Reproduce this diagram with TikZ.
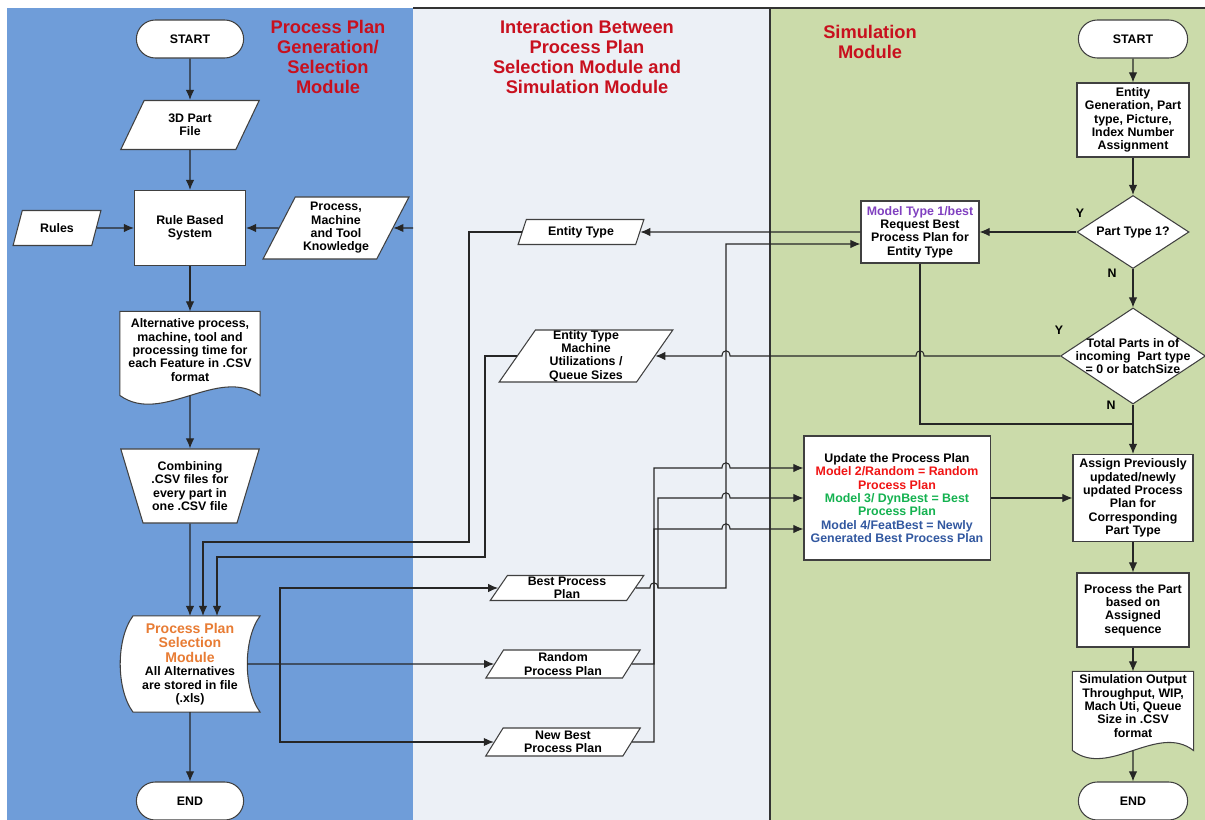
\documentclass[tikz,border=0pt]{standalone}
\usepackage{fontspec}
\setmainfont{Liberation Sans}
\usetikzlibrary{shapes.geometric,shapes.misc,arrows.meta,calc,backgrounds}
\definecolor{laneblue}{RGB}{111,157,217}
\definecolor{lanegrey}{RGB}{236,240,246}
\definecolor{lanegreen}{RGB}{203,219,170}
\definecolor{titlered}{RGB}{200,16,30}
\definecolor{ppsmorange}{RGB}{232,124,52}
\definecolor{modelred}{RGB}{240,20,20}
\definecolor{modelgreen}{RGB}{20,178,80}
\definecolor{modelblue}{RGB}{50,88,160}
\definecolor{modelpurple}{RGB}{128,64,192}
\newcommand*{\HopRight}[2]{% #1 = x of crossing, #2 = y of line
-- (#1-4,#2) .. controls (#1-4,#2-7) and (#1+4,#2-7) .. (#1+4,#2)}
\newcommand*{\HopLeft}[2]{%
-- (#1+4,#2) .. controls (#1+4,#2-7) and (#1-4,#2-7) .. (#1-4,#2)}
\newcommand*{\OrangeLine}[1]{\textcolor{ppsmorange}{\fontsize{10}{11.3}\selectfont #1}}

\begin{document}
\begin{tikzpicture}[x=0.025cm,y=-0.025cm,
    every node/.style={font=\bfseries\fontsize{8.8}{9.5}\selectfont},
    base/.style={draw=black!75, fill=white, line width=0.75pt, align=center, inner sep=1pt},
    term/.style={base, rounded rectangle, minimum width=2.75cm, minimum height=0.95cm},
    proc/.style={base, rectangle},
    iobox/.style={base, trapezium, trapezium left angle=62, trapezium right angle=118,
        trapezium stretches=true, inner ysep=0pt},
    decide/.style={base, diamond, aspect=1.5, inner sep=0pt},
    flow/.style={draw=black!85, line width=0.75pt, -{Latex[length=2.5mm,width=2.1mm]}},
    wire/.style={draw=black!85, line width=0.75pt},
    lanetitle/.style={text=titlered, align=center, font=\bfseries\fontsize{13}{14.2}\selectfont},
    yn/.style={inner sep=0pt}]

\useasboundingbox (0,0) rectangle (1205,820);

% swim lanes
\begin{scope}[on background layer]
\fill[laneblue] (7,8) rectangle (413,820);
\fill[lanegrey] (413,8) rectangle (770,820);
\fill[lanegreen] (770,8) rectangle (1205,820);
\draw[black!80, line width=0.8pt] (413,8) -- (1205,8);
\draw[black!80, line width=0.8pt] (770,8) -- (770,820);
\end{scope}

\node[lanetitle] (title1) at (328,57) {Process Plan\\Generation/\\Selection\\Module};
\node[lanetitle] (title2) at (587,57) {Interaction Between\\Process Plan\\Selection Module and\\Simulation Module};
\node[lanetitle] (title3) at (870,42) {Simulation\\Module};

% process plan generation / selection
\node[term] (st1) at (190,39) {START};
\node[iobox, minimum width=3.475cm, minimum height=1.225cm] (part3d) at (190,125) {3D Part\\File};
\node[proc, minimum width=2.775cm, minimum height=1.875cm] (rbs) at (190,228) {Rule Based\\System};
\node[iobox, minimum width=2.2cm, minimum height=0.875cm] (rules) at (57,228) {Rules};
\node[iobox, minimum width=3.65cm, minimum height=1.55cm] (ptk) at (336,228) {Process,\\Machine\\and Tool\\Knowledge};
\coordinate (ptk-in) at (413,228);
\node[proc, draw=none, fill=none, minimum width=3.475cm, minimum height=1.9cm] (alt) at (190,350)
    {Alternative process,\\machine, tool and\\processing time for\\each Feature in .CSV\\format};
\node[base, trapezium, trapezium left angle=110, trapezium right angle=110, trapezium stretches=true,
    minimum width=3.475cm, minimum height=1.85cm] (comb) at (190,486) {Combining\\.CSV files for\\every part in\\one .CSV file};
\node[proc, draw=none, fill=none, minimum width=3.475cm, minimum height=2.375cm] (ppsm) at (190,664)
    {\OrangeLine{Process Plan}\\[1pt]\OrangeLine{Selection}\\[1pt]\OrangeLine{Module}\\All Alternatives\\are stored in file\\(.xls)};
\node[term] (end1) at (190,801) {END};

% interaction
\node[iobox, trapezium left angle=66, trapezium right angle=114, minimum width=3.15cm, minimum height=0.625cm] (et) at (581,232) {Entity Type};
\node[iobox, minimum width=4.35cm, minimum height=1.3cm] (etm) at (586,356) {Entity Type\\Machine\\Utilizations /\\Queue Sizes};
\node[iobox, minimum width=3.85cm, minimum height=0.625cm] (bpp) at (567,588) {Best Process\\Plan};
\node[iobox, minimum width=3.875cm, minimum height=0.7cm] (rpp) at (563,664) {Random\\Process Plan};
\node[iobox, minimum width=3.875cm, minimum height=0.7cm] (nbpp) at (563,742) {New Best\\Process Plan};

% simulation
\node[term, minimum width=2.8cm] (st2) at (1133,39) {START};
\node[proc, minimum width=2.8cm, minimum height=1.85cm] (egen) at (1133,120)
    {Entity\\Generation, Part\\type, Picture,\\Index Number\\Assignment};
\node[decide, minimum width=2.8cm, minimum height=1.825cm] (pt1) at (1133,232) {Part Type 1?};
\node[proc, minimum width=2.95cm, minimum height=1.55cm] (rbest) at (920,232)
    {\textcolor{modelpurple}{Model Type 1/best}\\Request Best\\Process Plan for\\Entity Type};
\node[decide, minimum width=3.625cm, minimum height=2.4cm,
    label={[align=center]center:Total Parts in of\\incoming~~Part type\\= 0 or batchSize}] (tp) at (1133,356) {};
\node[proc, minimum width=4.65cm, minimum height=3.1cm] (upd) at (897,498)
    {Update the Process Plan\\
     \textcolor{modelred}{Model 2/Random = Random}\\
     \textcolor{modelred}{Process Plan}\\
     \textcolor{modelgreen}{Model 3/ DynBest = Best}\\
     \textcolor{modelgreen}{Process Plan}\\
     \textcolor{modelblue}{Model 4/FeatBest = Newly}\\
     \textcolor{modelblue}{Generated Best Process Plan}};
\node[proc, minimum width=3cm, minimum height=2.175cm] (asg) at (1133,498)
    {Assign Previously\\updated/newly\\updated Process\\Plan for\\Corresponding\\Part Type};
\node[proc, minimum width=2.8cm, minimum height=1.85cm] (prc) at (1133,610)
    {Process the Part\\based on\\Assigned\\sequence};
\node[proc, draw=none, fill=none, minimum width=3cm, minimum height=1.7cm] (sout) at (1133,706)
    {Simulation Output\\Throughput, WIP,\\Mach Uti, Queue\\Size in .CSV\\format};
\node[term, minimum width=2.8cm] (end2) at (1133,801) {END};

\node[yn] (y1) at (1080,213) {Y};
\node[yn] (n1) at (1112,273) {N};
\node[yn] (y2) at (1059,330) {Y};
\node[yn] (n2) at (1111,405) {N};

% document and stored data outlines
\begin{scope}[on background layer]
\draw[base] (alt.north west) -- (alt.north east) -- ($(alt.south east)+(0,7)$)
    .. controls ($(alt.south east)+(-42,-23)$) and ($(alt.south west)+(42,37)$) .. ($(alt.south west)+(0,7)$) -- cycle;
\draw[base] (sout.north west) -- (sout.north east) -- ($(sout.south east)+(0,10)$)
    .. controls ($(sout.south east)+(-36,-18)$) and ($(sout.south west)+(36,38)$) .. ($(sout.south west)+(0,10)$) -- cycle;
\draw[base] ($(ppsm.north west)+(13,0)$) -- (ppsm.north east)
    .. controls ($(ppsm.north east)+(-17,23)$) and ($(ppsm.south east)+(-17,-23)$) .. (ppsm.south east)
    -- ($(ppsm.south west)+(13,0)$)
    .. controls ($(ppsm.south west)+(-4,-23)$) and ($(ppsm.north west)+(-4,23)$) .. ($(ppsm.north west)+(13,0)$) -- cycle;
\end{scope}

\coordinate (pin1) at ($(ppsm.north)+(13,0)$);
\coordinate (pin2) at ($(ppsm.north)+(27,0)$);
\coordinate (ppsm-out) at ($(ppsm.east)+(-13,0)$);
\coordinate (br) at (280,664);
\coordinate (et-dn) at (469,542);
\coordinate (etm-dn) at (485,557);
\coordinate (bpp-j) at (658,588);
\coordinate (rb-up) at (726,588);
\coordinate (rb-in) at ($(rbest.west)+(0,12)$);
\coordinate (u1) at ($(upd.west)+(0,-30)$);
\coordinate (u3) at ($(upd.west)+(0,31)$);
\coordinate (asg-j) at (1133,424);

% left lane flow
\draw[flow] (st1) -- (part3d);
\draw[flow] (part3d) -- (rbs);
\draw[flow] (rules) -- (rbs);
\draw[flow] (ptk) -- (rbs);
\draw[flow] (ptk-in) -- (ptk);
\draw[flow] (rbs) -- (alt.north);
\draw[flow] ($(alt.south)+(0,7)$) -- (comb);
\draw[flow] (comb) -- (ppsm.north);
\draw[flow] (ppsm.south) -- (end1);

% plans back to selection module
\draw[flow] (et.west) -| (et-dn) -| (pin1);
\draw[flow] (etm.west) -| (etm-dn) -| (pin2);
\draw[flow] (ppsm-out) -- (rpp.west);
\draw[flow] (br) |- (bpp.west);
\draw[flow] (br) |- (nbpp.west);

% plans to simulation
\draw[flow] (bpp.east) \HopRight{654}{588} -- (rb-up) |- (rb-in);
\draw[flow] (bpp-j) -- (bpp-j |- upd.west) \HopRight{726}{498} -- (upd.west);
\draw[flow] (rpp.east) -| (654,468) \HopRight{726}{468} -- (u1);
\draw[flow] (nbpp.east) -| (654,529) \HopRight{726}{529} -- (u3);

% simulation lane flow
\draw[flow] (st2) -- (egen);
\draw[flow] (egen) -- (pt1);
\draw[flow] (pt1) -- (rbest);
\draw[flow] (rbest.west) -- (et.east);
\draw[flow] (pt1) -- (tp);
\draw[flow] (tp.west) \HopLeft{920}{356} \HopLeft{726}{356} -- (etm.east);
\draw[wire] (rbest.south) |- (asg-j);
\draw[flow] (tp.south) -- (asg);
\draw[flow] (upd) -- (asg);
\draw[flow] (asg) -- (prc);
\draw[flow] (prc) -- (sout.north);
\draw[flow] ($(sout.south)+(0,10)$) -- (end2);

\end{tikzpicture}
\end{document}
